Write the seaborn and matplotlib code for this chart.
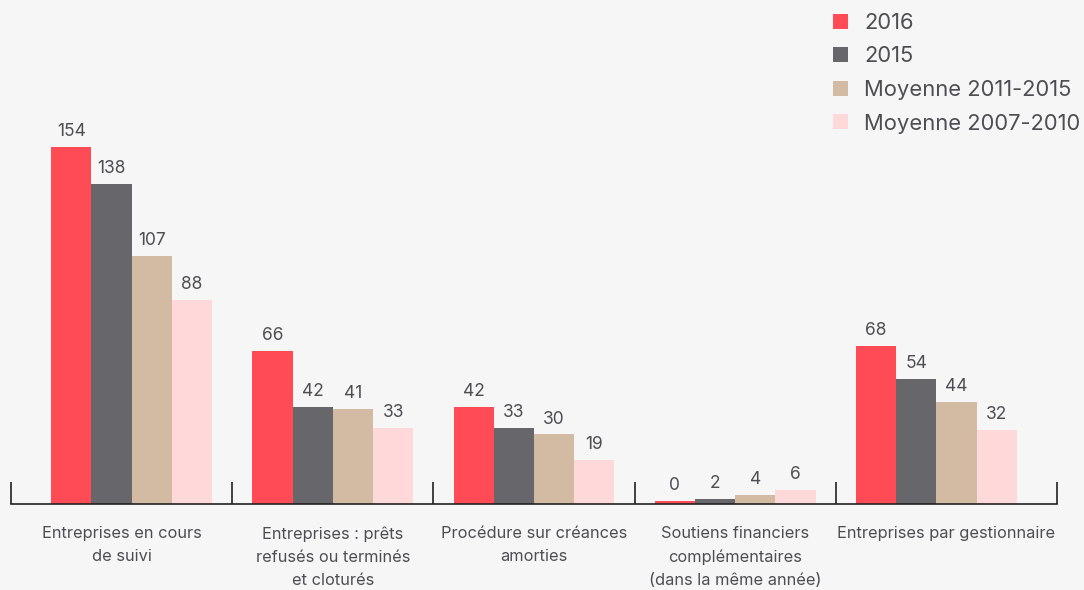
import numpy as np
import pandas as pd
import matplotlib
matplotlib.use("Agg")
import matplotlib.pyplot as plt
import seaborn as sns

# --- data ---
categories = [
    "Entreprises en cours\nde suivi",
    "Entreprises : prêts\nrefusés ou terminés\net cloturés",
    "Procédure sur créances\namorties",
    "Soutiens financiers\ncomplémentaires\n(dans la même année)",
    "Entreprises par gestionnaire",
]
series = ["2016", "2015", "Moyenne 2011-2015", "Moyenne 2007-2010"]
v2016 = [154, 66, 42, 0, 68]
v2015 = [138, 42, 33, 2, 54]
avg_2011_2015 = [107, 41, 30, 4, 44]
avg_2007_2010 = [88, 33, 19, 6, 32]

colors = ["#ff4b55", "#67666b", "#d3bba3", "#ffd9da"]
text_col = "#4d4d53"
bg = "#f6f6f6"

rows = []
for name, vals in zip(series, [v2016, v2015, avg_2011_2015, avg_2007_2010]):
    for cat, v in zip(categories, vals):
        rows.append({"categorie": cat, "serie": name, "valeur": v})
df = pd.DataFrame(rows)
# tiny visible stub for zero values, as in the original
df["hauteur"] = np.maximum(df["valeur"], 1.2)

sns.set_style("white")
plt.rcParams["font.family"] = ["Inter", "DejaVu Sans"]

fig = plt.figure(figsize=(10.84, 5.90), dpi=100, facecolor=bg)
ax = fig.add_axes([11 / 1084, 86 / 590, 1046 / 1084, 463.6 / 590])
ax.set_facecolor(bg)

sns.barplot(data=df, x="categorie", y="hauteur", hue="serie", order=categories,
            hue_order=series, palette=colors, width=0.8, saturation=1,
            linewidth=0, ax=ax)

for cont, name in zip(ax.containers, series):
    labels = df[df["serie"] == name]["valeur"].astype(str).tolist()
    ax.bar_label(cont, labels=labels, padding=5, fontsize=12.5, color=text_col)

ax.set_xlim(-0.6, 4.6)
ax.set_ylim(0, 200)
ax.set_xlabel("")
ax.set_ylabel("")
ax.set_yticks([])
for s in ["top", "right", "left"]:
    ax.spines[s].set_visible(False)
ax.spines["bottom"].set_color("#222222")
ax.spines["bottom"].set_linewidth(1.2)

# separators between groups, labels centred between separators
bounds = [-0.6, 0.5, 1.5, 2.5, 3.5, 4.6]
label_pos = [(a + b) / 2 for a, b in zip(bounds[:-1], bounds[1:])]
ax.set_xticks(label_pos)
ax.set_xticklabels(categories, fontsize=11.8, color=text_col, linespacing=1.68)
ax.tick_params(axis="x", which="major", length=0, pad=16)
ax.set_xticks(bounds, minor=True)
ax.tick_params(axis="x", which="minor", bottom=True, direction="in", length=16,
               width=1.2, color="#222222")
for lab in ax.get_xticklabels():
    lab.set_verticalalignment("top")

handles, labs = ax.get_legend_handles_labels()
ax.legend(handles, labs, loc="upper left", bbox_to_anchor=(813 / 1084, 1 + 7 / 590),
          bbox_transform=fig.transFigure, frameon=False, fontsize=15.8,
          labelcolor=text_col, handlelength=0.68, handleheight=0.68,
          handletextpad=0.75, labelspacing=0.62)

fig.savefig("out.png", dpi=100, facecolor=bg)
